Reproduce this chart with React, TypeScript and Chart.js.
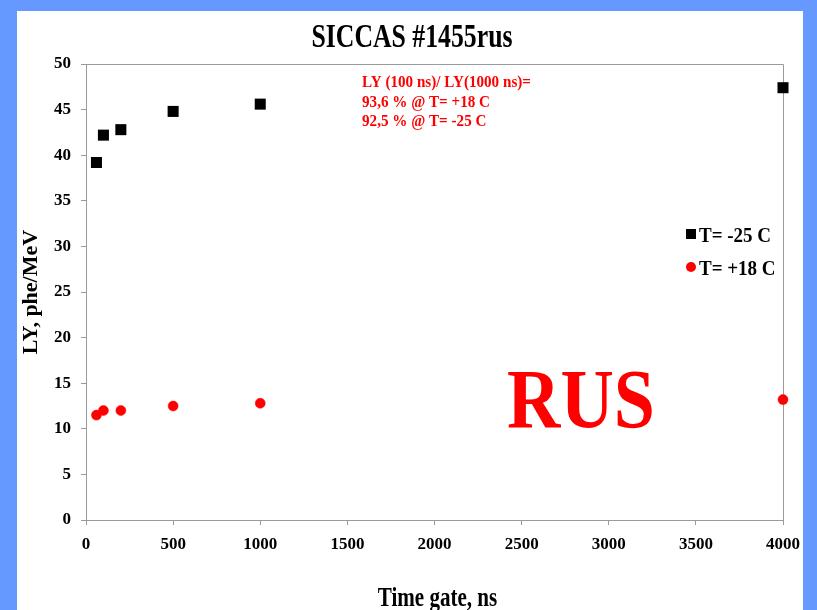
import React, { useEffect, useRef } from 'react';
import { Chart, registerables } from 'chart.js';

Chart.register(...registerables);

// ---- data ----
const timeGates = [60, 100, 200, 500, 1000, 4000];
const lyMinus25 = [39.2, 42.2, 42.8, 44.8, 45.6, 47.4];
const lyPlus18 = [11.5, 12.0, 12.0, 12.5, 12.8, 13.2];
const xTicks = [0, 500, 1000, 1500, 2000, 2500, 3000, 3500, 4000];
const yTicks = [0, 5, 10, 15, 20, 25, 30, 35, 40, 45, 50];
const seriesLabels = ['T= -25 C', 'T= +18 C'];
const titleText = 'SICCAS #1455rus';
const xTitle = 'Time gate, ns';
const yTitle = 'LY, phe/MeV';
const noteLines = ['LY (100 ns)/ LY(1000 ns)=', '93,6 % @ T= +18 C', '92,5 % @ T= -25 C'];
const stampText = 'RUS';

const FAMILY = "'Liberation Serif', 'Times New Roman', serif";
const AXIS_COLOR = '#9a9a9a';

function drawText(
  ctx: CanvasRenderingContext2D,
  text: string,
  x: number,
  y: number,
  size: number,
  color: string,
  sx: number,
  align: CanvasTextAlign
) {
  ctx.save();
  ctx.font = `bold ${size}px ${FAMILY}`;
  ctx.fillStyle = color;
  ctx.textBaseline = 'alphabetic';
  ctx.textAlign = align;
  ctx.translate(x, y);
  ctx.scale(sx, 1);
  ctx.fillText(text, 0, 0);
  ctx.restore();
}

const decorPlugin = {
  id: 'decor',
  beforeDatasetsDraw(chart: any) {
    const ctx: CanvasRenderingContext2D = chart.ctx;
    const a = chart.chartArea;
    // frame top and right
    ctx.save();
    ctx.strokeStyle = AXIS_COLOR;
    ctx.lineWidth = 1;
    ctx.beginPath();
    ctx.moveTo(a.left, a.top + 0.5);
    ctx.lineTo(a.right + 0.5, a.top + 0.5);
    ctx.lineTo(a.right + 0.5, a.bottom);
    ctx.stroke();
    ctx.restore();
  },
  afterDraw(chart: any) {
    const ctx: CanvasRenderingContext2D = chart.ctx;
    const a = chart.chartArea;
    // title
    drawText(ctx, titleText, 395, 36, 33, '#000', 0.78, 'center');
    // x axis title
    drawText(ctx, xTitle, (a.left + a.right) / 2 + 3, 595, 27, '#000', 0.78, 'center');
    // note
    noteLines.forEach((t, i) => drawText(ctx, t, 345, 76 + i * 19.7, 17, '#ff0000', 0.89, 'left'));
    // big stamp
    drawText(ctx, stampText, 490, 417, 84, '#ff0000', 0.88, 'left');

    // legend
    const ds = chart.data.datasets;
    const rows = [223, 256];
    ds.forEach((d: any, i: number) => {
      const cy = rows[i];
      const cx = 674;
      ctx.save();
      ctx.fillStyle = d.backgroundColor;
      if (d.pointStyle === 'rect') {
        ctx.fillRect(cx - 5, cy - 5, 10, 10);
      } else {
        ctx.beginPath();
        ctx.arc(cx, cy, 5, 0, Math.PI * 2);
        ctx.fill();
      }
      ctx.restore();
      drawText(ctx, d.label, 682, cy + 7.5, 20, '#000', 0.95, 'left');
    });
  },
};

export default function App() {
  const ref = useRef<HTMLCanvasElement | null>(null);

  useEffect(() => {
    document.body.style.margin = '0';
    document.body.style.overflow = 'hidden';
    const canvas = ref.current;
    if (!canvas) return;
    const chart = new Chart(canvas, {
      type: 'scatter',
      data: {
        datasets: [
          {
            label: seriesLabels[0],
            data: timeGates.map((x, i) => ({ x, y: lyMinus25[i] })),
            pointStyle: 'rect',
            pointRadius: 7.8,
            backgroundColor: '#000000',
            borderColor: '#000000',
            borderWidth: 0,
            clip: false,
          } as any,
          {
            label: seriesLabels[1],
            data: timeGates.map((x, i) => ({ x, y: lyPlus18[i] })),
            pointStyle: 'circle',
            pointRadius: 5,
            backgroundColor: '#ff0000',
            borderColor: '#ff0000',
            borderWidth: 0.5,
            clip: false,
          } as any,
        ],
      },
      options: {
        animation: false,
        responsive: false,
        devicePixelRatio: 1,
        layout: { padding: { top: 53, right: 20, left: 0, bottom: 0 } },
        plugins: {
          legend: { display: false },
          title: { display: false },
          tooltip: { enabled: false },
        },
        scales: {
          x: {
            type: 'linear',
            min: xTicks[0],
            max: xTicks[xTicks.length - 1],
            afterBuildTicks: (s: any) => {
              s.ticks = xTicks.map((v) => ({ value: v }));
            },
            afterFit: (s: any) => {
              s.height = 90;
              s.paddingLeft = 0;
              s.paddingRight = 0;
            },
            grid: { drawOnChartArea: false, drawTicks: true, tickLength: 5, color: AXIS_COLOR },
            border: { display: true, color: AXIS_COLOR, width: 1 },
            ticks: {
              padding: 9,
              color: '#000',
              maxRotation: 0,
              callback: (v: any) => String(v),
              font: { family: FAMILY, size: 17, weight: 'bold' },
            },
          },
          y: {
            type: 'linear',
            min: yTicks[0],
            max: yTicks[yTicks.length - 1],
            afterBuildTicks: (s: any) => {
              s.ticks = yTicks.map((v) => ({ value: v }));
            },
            afterFit: (s: any) => {
              s.width = 69;
              s.paddingTop = 0;
              s.paddingBottom = 0;
            },
            grid: { drawOnChartArea: false, drawTicks: true, tickLength: 5, color: AXIS_COLOR },
            border: { display: true, color: AXIS_COLOR, width: 1 },
            ticks: {
              padding: 10,
              color: '#000',
              callback: (v: any) => String(v),
              font: { family: FAMILY, size: 17, weight: 'bold' },
            },
            title: {
              display: true,
              text: yTitle,
              color: '#000',
              padding: { top: 1, bottom: 0 },
              font: { family: FAMILY, size: 22, weight: 'bold' },
            },
          },
        },
      } as any,
      plugins: [decorPlugin],
    });
    return () => chart.destroy();
  }, []);

  return (
    <div
      style={{
        position: 'absolute',
        left: 0,
        top: 0,
        width: 817,
        height: 610,
        background: '#6699ff',
        overflow: 'hidden',
      }}
    >
      <div
        style={{
          position: 'absolute',
          left: 17,
          top: 11,
          width: 786,
          height: 599,
          background: '#ffffff',
        }}
      >
        <canvas ref={ref} width={786} height={599} style={{ display: 'block' }} />
      </div>
    </div>
  );
}
